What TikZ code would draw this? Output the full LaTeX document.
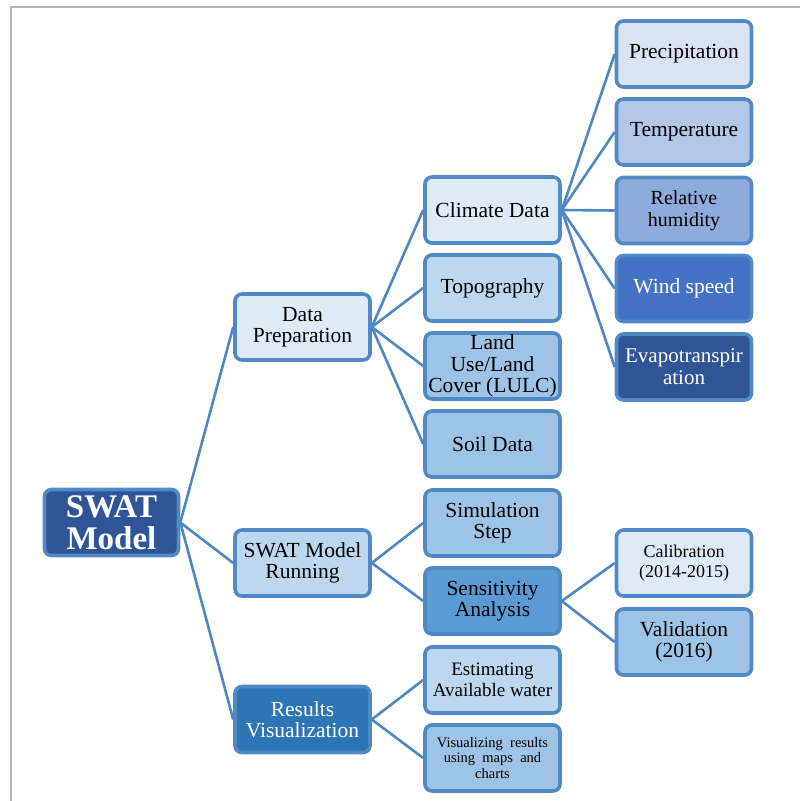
\documentclass[tikz,border=0pt]{standalone}
\usepackage{fontspec}
\setmainfont{Liberation Serif}
\definecolor{bord}{HTML}{5189C4}
\definecolor{conn}{HTML}{4F87C2}
\definecolor{frame}{HTML}{B4B4B4}
\definecolor{cA}{HTML}{DEEBF7}
\definecolor{cB}{HTML}{BDD7EE}
\definecolor{cC}{HTML}{9DC3E6}
\definecolor{cD}{HTML}{5B9BD5}
\definecolor{cE}{HTML}{2E75B6}
\definecolor{cF}{HTML}{2F5597}
\definecolor{pA}{HTML}{DAE3F3}
\definecolor{pB}{HTML}{B4C7E7}
\definecolor{pC}{HTML}{8FAADC}
\definecolor{pD}{HTML}{4472C4}
\tikzset{
  box/.style={draw=bord, line width=3.6pt, rounded corners=7pt, minimum width=135pt, minimum height=66pt, inner sep=1pt, align=center, font=\fontsize{21.5}{21.5}\selectfont},
  link/.style={draw=conn, line width=2.6pt},
}
\begin{document}
\begin{tikzpicture}[x=1pt,y=-1pt]
\useasboundingbox (0,0) rectangle (800,801);
\draw[frame, line width=2pt] (11,801) -- (11,7) -- (800,7);

\node[box, fill=cF, text=white, minimum width=134pt, minimum height=66pt, font=\bfseries\fontsize{33}{32}\selectfont] (swat) at (111.5,522.5) {SWAT\\Model};

\node[box, fill=cA] (dp) at (302.5,327) {Data\\Preparation};
\node[box, fill=cB] (run) at (302.5,563) {SWAT Model\\Running};
\node[box, fill=cE, text=white] (res) at (302.5,719.5) {Results\\Visualization};

\node[box, fill=cA] (clim) at (492.5,210) {Climate Data};
\node[box, fill=cB] (topo) at (492.5,288) {Topography};
\node[box, fill=cC] (lulc) at (492.5,366) {Land\\Use/Land\\Cover (LULC)};
\node[box, fill=cC] (soil) at (492.5,444) {Soil Data};
\node[box, fill=cC] (sim) at (492.5,523) {Simulation\\Step};
\node[box, fill=cD] (sens) at (492.5,601) {Sensitivity\\Analysis};
\node[box, fill=cB, font=\fontsize{19}{21}\selectfont] (est) at (492.5,680) {Estimating\\Available water};
\node[box, fill=cC, font=\fontsize{14.5}{15.5}\selectfont] (vis) at (492.5,758) {Visualizing\ \ results\\using\ \ maps\ \ and\\charts};

\node[box, fill=pA] (prec) at (684,54) {Precipitation};
\node[box, fill=pB] (temp) at (684,132) {Temperature};
\node[box, fill=pC, font=\fontsize{20}{22}\selectfont] (rh) at (684,210.5) {Relative\\humidity};
\node[box, fill=pD, text=white] (wind) at (684,288.5) {Wind speed};
\node[box, fill=cF, text=white, font=\fontsize{21}{22}\selectfont] (evap) at (684,367) {Evapotranspir\\ation};
\node[box, fill=cA, font=\fontsize{18}{20}\selectfont] (cal) at (684,563) {Calibration\\(2014-2015)};
\node[box, fill=cC] (val) at (684,642) {Validation\\(2016)};

\foreach \a/\b in {swat/dp, swat/run, swat/res, dp/clim, dp/topo, dp/lulc, dp/soil, run/sim, run/sens, res/est, res/vis, clim/prec, clim/temp, clim/rh, clim/wind, clim/evap, sens/cal, sens/val}
  \draw[link] (\a.east) -- (\b.west);
\end{tikzpicture}
\end{document}
